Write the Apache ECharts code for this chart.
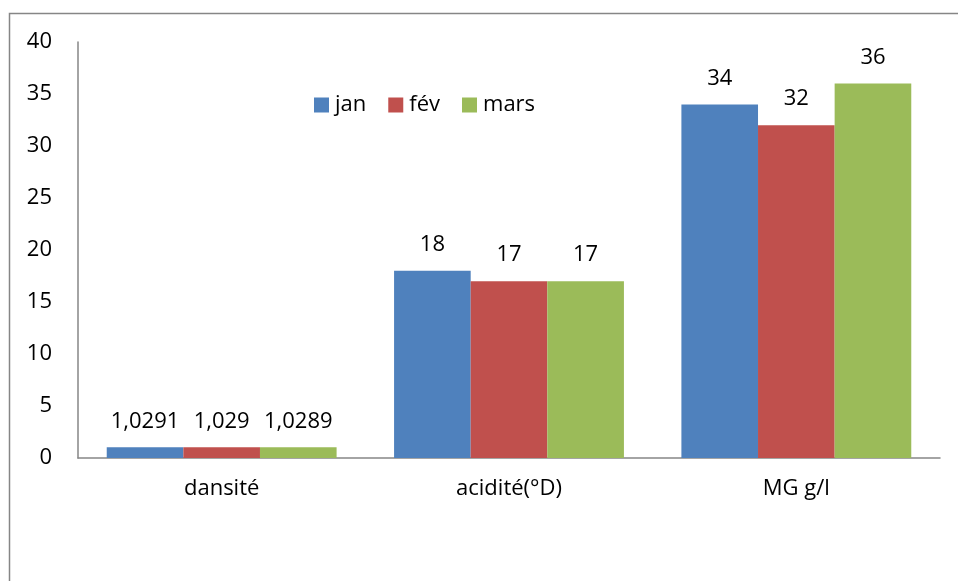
<!DOCTYPE html>
<html>
<head>
<meta charset="utf-8">
<script src="https://cdn.jsdelivr.net/npm/echarts@6/dist/echarts.min.js"></script>
<style>
  html, body { margin: 0; padding: 0; background: #fff; }
  #chart { width: 958px; height: 581px; }
</style>
</head>
<body>
<div id="chart"></div>
<script>
// données du graphique
const categories = ['dansité', 'acidité(°D)', 'MG g/l']
const janValues = [1.0291, 18, 34]
const fevValues = [1.029, 17, 32]
const marsValues = [1.0289, 17, 36]
const seriesNames = ['jan', 'fév', 'mars']
const colors = ['#4F81BD', '#C0504D', '#9BBB59']

const font = '"Open Sans", sans-serif'
const chart = echarts.init(document.getElementById('chart'))

// étiquette avec virgule décimale
const fmt = (p) => String(p.value).replace('.', ',')

const makeSeries = (name, data, color) => ({
  name: name,
  type: 'bar',
  data: data,
  barGap: '0%',
  barCategoryGap: '20%',
  itemStyle: { color: color },
  label: {
    show: true,
    position: 'top',
    distance: 15,
    formatter: fmt,
    color: '#000',
    fontSize: 22,
    fontFamily: font,
  },
})

const option = {
  animation: false,
  graphic: [
    {
      type: 'rect',
      shape: { x: 9.5, y: 13.5, width: 980, height: 600 },
      style: { fill: 'none', stroke: '#868686', lineWidth: 1.5 },
      silent: true,
    },
  ],
  color: colors,
  legend: {
    data: seriesNames,
    left: 314,
    top: 94,
    padding: 0,
    itemWidth: 15,
    itemHeight: 15,
    itemGap: 22,
    icon: 'rect',
    textStyle: { fontSize: 22, fontFamily: font, color: '#000', padding: [0, 0, 0, 1] },
  },
  grid: { left: 78, right: 18, top: 42, bottom: 123 },
  xAxis: {
    type: 'category',
    data: categories,
    axisLine: { lineStyle: { color: '#868686', width: 1.5 } },
    axisTick: { show: false },
    axisLabel: { margin: 20, fontSize: 22, fontFamily: font, color: '#000' },
  },
  yAxis: {
    type: 'value',
    min: 0,
    max: 40,
    interval: 5,
    axisLine: { show: true, lineStyle: { color: '#868686', width: 1.5 } },
    axisTick: { show: false },
    splitLine: { show: false },
    axisLabel: { margin: 26, fontSize: 22, fontFamily: font, color: '#000' },
  },
  series: [
    makeSeries(seriesNames[0], janValues, colors[0]),
    makeSeries(seriesNames[1], fevValues, colors[1]),
    makeSeries(seriesNames[2], marsValues, colors[2]),
  ],
}

chart.setOption(option)
</script>
</body>
</html>
